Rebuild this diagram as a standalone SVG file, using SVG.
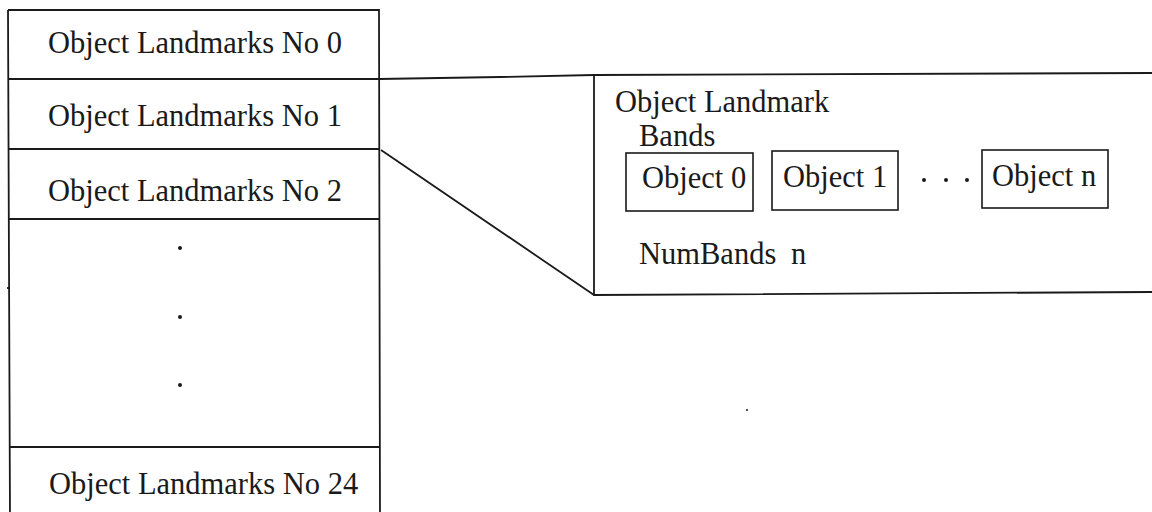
<svg xmlns="http://www.w3.org/2000/svg" width="1152" height="512" viewBox="0 0 1152 512">
<style>
.ln{stroke:#1a1a1a;stroke-width:1.8;fill:none}
.bx{stroke:#1a1a1a;stroke-width:1.6;fill:#fff}
text{font-family:'Liberation Serif','Times New Roman',serif;font-size:30.5px;fill:#1a1a1a}
.dot{fill:#1a1a1a}
</style>
<rect width="1152" height="512" fill="#fff"/>
<g id="connectors">
<path class="ln" d="M379,79 L500,77 L594,75"/>
<path class="ln" d="M381,150 L594,295"/>
</g>
<g id="landmark-list">
<path class="ln" d="M8,10 L379,10 L380,520 M8,10 L10,520"/>
<path class="ln" d="M8,79 L379,79"/>
<path class="ln" d="M8,149 L379,149"/>
<path class="ln" d="M9,219 L380,219"/>
<path class="ln" d="M10,447 L380,447"/>
<path class="ln" d="M7,288 L10,288"/>
</g>
<g id="row0"><text x="48" y="53">Object Landmarks No 0</text></g>
<g id="row1"><text x="48" y="126">Object Landmarks No 1</text></g>
<g id="row2"><text x="48" y="201">Object Landmarks No 2</text></g>
<g id="row-dots">
<circle class="dot" cx="180" cy="248" r="2"/>
<circle class="dot" cx="180" cy="317" r="2"/>
<circle class="dot" cx="180" cy="385" r="2"/>
</g>
<g id="row24"><text x="49" y="494">Object Landmarks No 24</text></g>
<g id="detail">
<path class="ln" d="M594,75 L1152,73 M594,75 L594,295 L1152,292"/>
<text x="615" y="112">Object Landmark</text>
<text x="639" y="146">Bands</text>
<text x="639" y="264">NumBands</text>
<text x="791" y="264">n</text>
</g>
<g id="object0"><rect class="bx" x="626" y="153" width="127" height="58"/><text x="642" y="188">Object 0</text></g>
<g id="object1"><rect class="bx" x="772" y="151" width="126" height="59"/><text x="783" y="187">Object 1</text></g>
<g id="ellipsis">
<circle class="dot" cx="924" cy="180" r="2"/>
<circle class="dot" cx="946" cy="180" r="2"/>
<circle class="dot" cx="967" cy="180" r="2"/>
</g>
<g id="objectn"><rect class="bx" x="982" y="150" width="126" height="58"/><text x="992" y="186">Object n</text></g>
<circle class="dot" cx="747" cy="410" r="1"/>
</svg>
